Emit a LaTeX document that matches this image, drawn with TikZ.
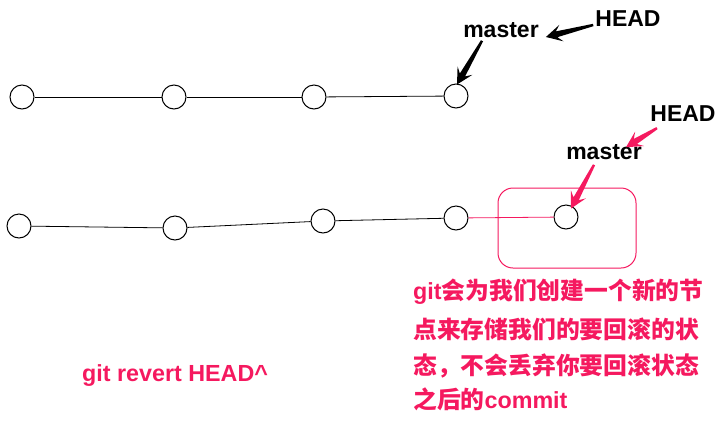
\documentclass[tikz,border=0pt]{standalone}
\usepackage{fontspec}
\setmainfont{Liberation Sans}
\newfontfamily\cjk{Noto Sans CJK SC}
\usetikzlibrary{calc}
\definecolor{hot}{RGB}{245,25,95}
\newcommand\taperarrow[3]{%
  \coordinate (tb) at ($(#2)!16pt!(#1)$);
  \coordinate (tn) at ($(#2)!11pt!(#1)$);
  \fill[#3] ($(#1)!1.2pt!90:(#2)$) -- ($(tn)!3pt!90:(#2)$) -- ($(tb)!8.5pt!90:(#2)$) -- (#2)
    -- ($(tb)!8.5pt!-90:(#2)$) -- ($(tn)!3pt!-90:(#2)$) -- ($(#1)!1.2pt!-90:(#2)$) -- cycle;}
\begin{document}
\begin{tikzpicture}[x=1pt,y=-1pt,
  commit/.style={circle,draw=black,line width=1pt,minimum size=24pt,inner sep=0pt},
  link/.style={draw=black,line width=0.8pt},
  lbl/.style={font=\fontsize{23}{26}\selectfont\bfseries,inner sep=0pt},
  note/.style={font=\fontsize{23.3}{26}\selectfont\bfseries,text=hot,inner sep=0pt,anchor=west},
  zh/.style={font=\fontsize{23.8}{26}\selectfont\cjk\bfseries}]
\useasboundingbox (0,0) rectangle (722,429);
% row 1
\node[commit] (a1) at (22,97) {};
\node[commit] (a2) at (174,97) {};
\node[commit] (a3) at (314,97) {};
\node[commit] (a4) at (456,96) {};
\draw[link] (a1) -- (a2);
\draw[link] (a2) -- (a3);
\draw[link] (a3) -- (a4);
\node[lbl] (m1) at (501,30) {master};
\node[lbl] (h1) at (628,19) {HEAD};
\coordinate (h1t) at ([xshift=-2pt,yshift=-6pt]h1.west);
\coordinate (m1e) at ([xshift=7pt,yshift=-7pt]m1.east);
\coordinate (m1s) at ([xshift=-19pt,yshift=-3pt]m1.south);
\coordinate (a4n) at ([xshift=1pt,yshift=-1pt]a4.north);
\taperarrow{h1t}{m1e}{black}
\taperarrow{m1s}{a4n}{black}
% row 2
\node[commit] (b1) at (19,226) {};
\node[commit] (b2) at (175,228) {};
\node[commit] (b3) at (323,221) {};
\node[commit] (b4) at (456,218) {};
\node[commit] (b5) at (566,217) {};
\draw[link] (b1) -- (b2);
\draw[link] (b2) -- (b3);
\draw[link] (b3) -- (b4);
\draw[draw=hot,line width=0.8pt] (b4) -- (b5);
\node[draw=hot,line width=1pt,rounded corners=15pt,minimum width=138pt,minimum height=80pt] (box) at (567,228) {};
\node[lbl] (h2) at (683,114) {HEAD};
\node[lbl] (m2) at (604,152) {master};
\coordinate (h2t) at ([xshift=-26pt,yshift=-6pt]h2.south);
\coordinate (m2n) at ([xshift=22pt,yshift=-3pt]m2.north);
\coordinate (m2s) at ([xshift=-10pt,yshift=-5pt]m2.south);
\coordinate (b5n) at ([xshift=5pt,yshift=-4pt]b5.north);
\taperarrow{h2t}{m2n}{hot}
\taperarrow{m2s}{b5n}{hot}
% notes
\node[note] (t1) at (413,292) {git{\fontsize{23.8}{26}\selectfont\cjk\bfseries 会为我们创建一个新的节}};
\node[note,zh] (t2) at (413,329) {点来存储我们的要回滚的状};
\node[note,zh] (t3) at (413,366) {态，不会丢弃你要回滚状态};
\node[note] (t4) at (413,399) {{\fontsize{23.8}{26}\selectfont\cjk\bfseries 之后的}commit};
\node[note] (cmd) at (82,376) {git revert HEAD\^{}};
\end{tikzpicture}
\end{document}
